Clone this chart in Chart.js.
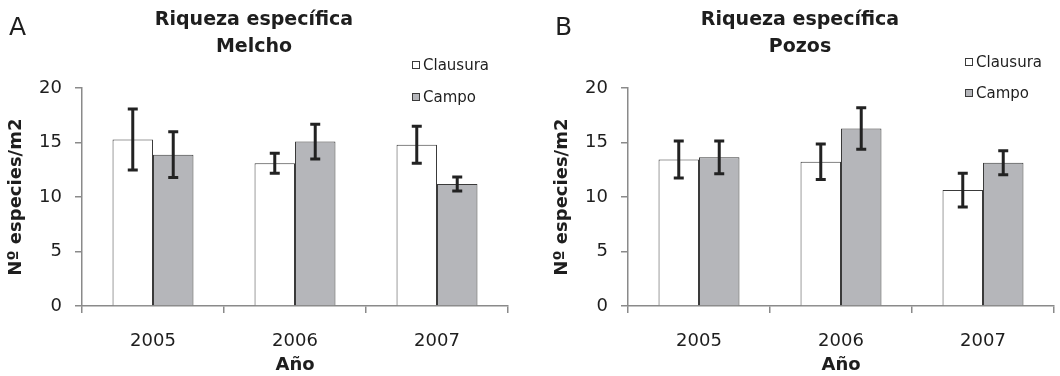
<!DOCTYPE html>
<html>
<head>
<meta charset="utf-8">
<script src="https://cdn.jsdelivr.net/npm/chart.js@4.4.1/dist/chart.umd.min.js"></script>
<style>
  html,body{margin:0;padding:0;background:#fff;}
  body{width:1060px;height:376px;overflow:hidden;position:relative;font-family:'DejaVu Sans',sans-serif;color:#1e1e1e;}
  .panel{position:absolute;top:0;width:540px;height:376px;}
  .panel canvas{position:absolute;left:0;top:0;}
  .letter{position:absolute;left:9px;top:14px;font-size:25px;line-height:25px;}
  .leg{position:absolute;font-size:15px;line-height:15px;white-space:nowrap;}
  .leg i{position:absolute;left:0;width:8px;height:8px;box-sizing:border-box;border:1px solid #3a3a3a;}
  .leg span{position:absolute;left:11px;top:0;}
</style>
</head>
<body>
<div class="panel" id="pA" style="left:0"><canvas id="cA" width="540" height="376"></canvas><div class="letter">A</div></div>
<div class="panel" id="pB" style="left:546px"><canvas id="cB" width="540" height="376"></canvas><div class="letter">B</div></div>
<script>
// ====== DATA ======
const YEARS = ['2005','2006','2007'];
const SERIES = ['Clausura','Campo'];
const COLORS = ['#ffffff','#b5b6ba'];

// Melcho
const melchoClausura    = [15.3, 13.1, 14.8];
const melchoClausuraErr = [2.8, 0.92, 1.7];
const melchoCampo       = [13.9, 15.1, 11.2];
const melchoCampoErr    = [2.1, 1.6, 0.64];

// Pozos
const pozosClausura    = [13.45, 13.25, 10.65];
const pozosClausuraErr = [1.7, 1.63, 1.55];
const pozosCampo       = [13.65, 16.3, 13.15];
const pozosCampoErr    = [1.5, 1.9, 1.1];

const Y_TICKS = [0,5,10,15,20];

// ====== PLUGINS ======
const errorBars = {
  id:'errorBars',
  afterDatasetsDraw(chart){
    const ctx=chart.ctx, y=chart.scales.y;
    chart.data.datasets.forEach((ds,i)=>{
      const meta=chart.getDatasetMeta(i);
      meta.data.forEach((bar,j)=>{
        const v=ds.data[j], e=ds.errors[j];
        const top=y.getPixelForValue(v+e), bot=y.getPixelForValue(v-e);
        ctx.save();
        ctx.strokeStyle='#222'; ctx.lineWidth=3; ctx.lineCap='butt';
        ctx.beginPath();
        ctx.moveTo(bar.x,top); ctx.lineTo(bar.x,bot);
        ctx.moveTo(bar.x-5,top); ctx.lineTo(bar.x+5,top);
        ctx.moveTo(bar.x-5,bot); ctx.lineTo(bar.x+5,bot);
        ctx.stroke();
        ctx.restore();
      });
    });
  }
};

// ====== CHART ======
Chart.defaults.font.family="'DejaVu Sans', sans-serif";
Chart.defaults.color='#1e1e1e';

function makeChart(id, site, clau, clauErr, camp, campErr){
  const AXIS='#8a8a8a';
  return new Chart(document.getElementById(id).getContext('2d'),{
    type:'bar',
    data:{
      labels:YEARS,
      datasets:[
        {label:SERIES[0],data:clau,errors:clauErr,backgroundColor:COLORS[0],borderColor:'#3a3a3a',borderWidth:1,categoryPercentage:0.57,barPercentage:1},
        {label:SERIES[1],data:camp,errors:campErr,backgroundColor:COLORS[1],borderColor:'#3a3a3a',borderWidth:1,categoryPercentage:0.57,barPercentage:1}
      ]
    },
    options:{
      responsive:false, devicePixelRatio:1, animation:false,
      layout:{padding:{left:0,right:32,top:0,bottom:0}},
      plugins:{
        legend:{display:false}, tooltip:{enabled:false},
        title:{display:true,text:['Riqueza específica',site],font:{size:19,weight:'bold',lineHeight:1.4},padding:{top:7,bottom:28},color:'#1e1e1e'}
      },
      scales:{
        x:{
          grid:{display:true,drawOnChartArea:false,tickLength:7,color:AXIS,lineWidth:1.5,offset:true},
          border:{color:AXIS,width:1.5},
          ticks:{font:{size:18},padding:18,color:'#1e1e1e'},
          title:{display:true,text:'Año',font:{size:18,weight:'bold'},padding:{top:0,bottom:0},color:'#1e1e1e'},
          afterFit:s=>{s.height=70;}
        },
        y:{
          min:0,max:20,
          afterBuildTicks:s=>{s.ticks=Y_TICKS.map(v=>({value:v}));},
          grid:{display:true,drawOnChartArea:false,tickLength:7,color:AXIS,lineWidth:1.5},
          border:{color:AXIS,width:1.5},
          ticks:{font:{size:18},padding:13,color:'#1e1e1e'},
          title:{display:true,text:'Nº especies/m2',font:{size:18,weight:'bold'},padding:{top:6,bottom:0},color:'#1e1e1e'},
          afterFit:s=>{s.width=82;}
        }
      }
    },
    plugins:[errorBars]
  });
}

function makeLegend(panelId, x, y0, step){
  const p=document.getElementById(panelId);
  SERIES.forEach((name,i)=>{
    const d=document.createElement('div'); d.className='leg';
    d.style.left=x+'px'; d.style.top=(y0+i*step)+'px';
    const b=document.createElement('i'); b.style.background=COLORS[i]; b.style.top='3px';
    const t=document.createElement('span'); t.textContent=name;
    d.appendChild(b); d.appendChild(t); p.appendChild(d);
  });
}

makeChart('cA','Melcho',melchoClausura,melchoClausuraErr,melchoCampo,melchoCampoErr);
makeChart('cB','Pozos',pozosClausura,pozosClausuraErr,pozosCampo,pozosCampoErr);
makeLegend('pA',412,58,32);
makeLegend('pB',419,55,31);
</script>
</body>
</html>
